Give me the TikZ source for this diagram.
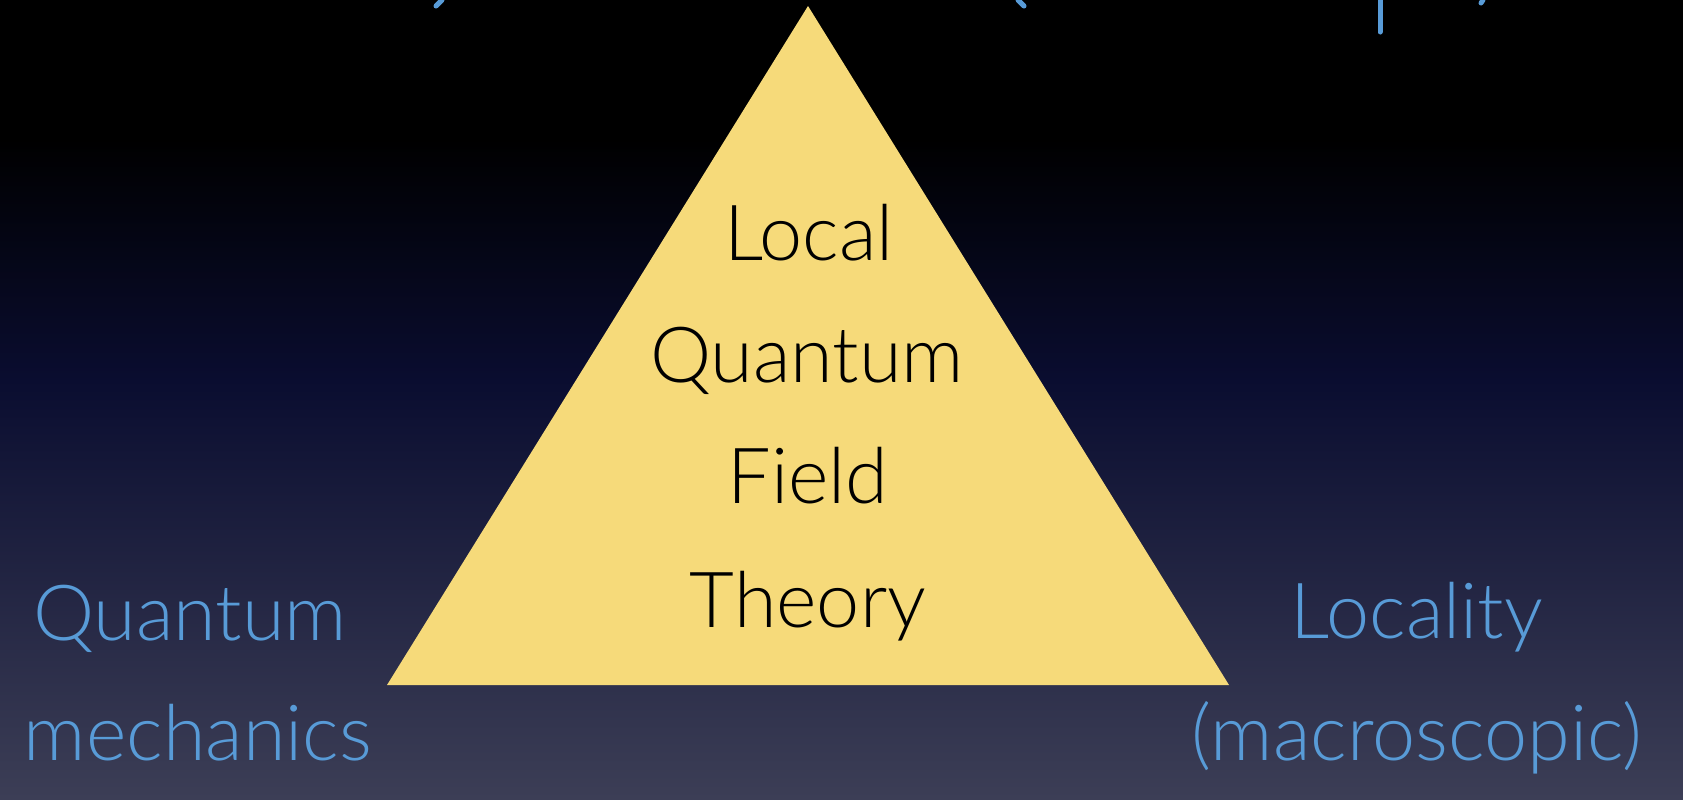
\documentclass[tikz,border=0pt]{standalone}
\usepackage{fontspec}
\setmainfont{Lato}[UprightFont=* Light]
\usepackage{xcolor}
\usepackage{tikz}
\usetikzlibrary{positioning, calc}

\definecolor{skyblue}{RGB}{88,155,215}
\definecolor{sand}{RGB}{246,218,122}
\definecolor{nightmid}{RGB}{10,13,48}
\definecolor{nightlow}{RGB}{60,62,86}

\tikzset{
  label text/.style={text=skyblue, anchor=base, inner sep=0pt, font=\fontsize{22}{26}\selectfont},
  core text/.style={text=black, anchor=base, inner sep=0pt, font=\fontsize{22}{26}\selectfont},
  cut stroke/.style={draw=skyblue, line width=0.05cm, line cap=round}
}

\begin{document}
\begin{tikzpicture}[x=0.01cm, y=-0.01cm]
  % Background
  \useasboundingbox (0,0) rectangle (1683,799);
  \fill[black] (0,0) rectangle (1683,140);
  \shade[top color=black, bottom color=nightmid] (0,139) rectangle (1683,380);
  \shade[top color=nightmid, bottom color=nightlow] (0,379) rectangle (1683,799);

  % Corners of the triangle
  \coordinate (apex) at (808,6);
  \coordinate (left) at (387,685);
  \coordinate (right) at (1229,685);

  % Draw triangle
  \fill[sand] (apex) -- (left) -- (right) -- cycle;

  % Text inside
  \node[core text] (local) at (809,260) {Local};
  \node[core text] (quantum) at (807,382) {Quantum};
  \node[core text] (field) at (808,503) {Field};
  \node[core text] (theory) at (808,627) {Theory};

  % Corner labels
  \node[label text] (qm1) at (190,640) {Quantum};
  \node[label text] (qm2) at (198,760) {mechanics};
  \node[label text] (loc1) at (1417,638) {Locality};
  \node[label text] (loc2) at (1417,760) {(macroscopic)};

  % Cut-off text at the top edge
  \draw[cut stroke] (442,0) -- (436,6);
  \draw[cut stroke] (1018,0) -- (1024,6);
  \draw[cut stroke] (1380,0) -- (1380,32);
  \draw[cut stroke] (1483,0) -- (1481,3);
\end{tikzpicture}
\end{document}
